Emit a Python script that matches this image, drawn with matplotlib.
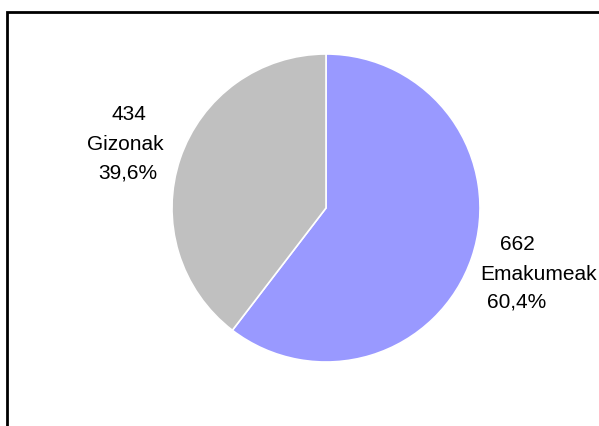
import matplotlib
matplotlib.use("Agg")
import matplotlib.pyplot as plt
from matplotlib.patches import Rectangle

categories = ["Emakumeak", "Gizonak"]
values = [662, 434]
colors = ["#9999FF", "#C0C0C0"]

W, H = 599, 426
fig = plt.figure(figsize=(W / 100, H / 100), dpi=100)
ax = fig.add_axes([0, 0, 1, 1])
ax.set_xlim(0, W)
ax.set_ylim(0, H)
ax.set_aspect("equal")
ax.axis("off")

# outer frame
ax.add_patch(Rectangle((7, -10), W + 10, H - 12 + 10, fill=False,
                       edgecolor="black", linewidth=2))

cx, cy, r = 326, H - 208, 154
ax.pie(values, colors=colors, startangle=90, counterclock=False,
       center=(cx, cy), radius=r, frame=True,
       wedgeprops=dict(edgecolor="white", linewidth=1.2))
ax.set_xlim(0, W)
ax.set_ylim(0, H)
ax.axis("off")

total = sum(values)
pct = [f"{v / total * 100:.1f}".replace(".", ",") + "%" for v in values]

font = dict(family=["Liberation Sans", "DejaVu Sans"], fontsize=15,
            ha="center", va="center", color="black")
# Emakumeak label
ax.text(517, H - 244, str(values[0]), **font)
ax.text(539, H - 274, categories[0], **font)
ax.text(517, H - 302, pct[0], **font)
# Gizonak label
ax.text(129, H - 115, str(values[1]), **font)
ax.text(125, H - 145, categories[1], **font)
ax.text(128, H - 173, pct[1], **font)

fig.savefig("out.png", dpi=100)
